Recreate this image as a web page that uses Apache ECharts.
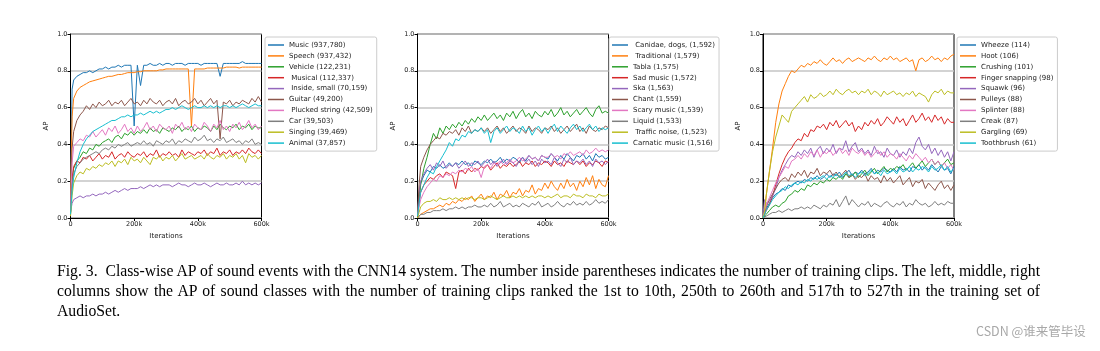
<!DOCTYPE html>
<html>
<head>
<meta charset="utf-8">
<script src="https://cdn.jsdelivr.net/npm/echarts@6/dist/echarts.min.js"></script>
<style>
  body { margin: 0; background: #fff; }
  #chart { position: absolute; left: 0; top: 0; width: 1100px; height: 351px; }
  #caption { position: absolute; left: 57px; top: 261px; width: 983px;
    font-family: "Liberation Serif"; font-size: 17px; line-height: 20px; color: #000; }
  #caption .line { white-space: nowrap; height: 20px; }
  #caption .line span { display: inline-block; transform-origin: 0 0; }
  #mark { position: absolute; left: 976px; top: 321px; font-family: "Noto Sans CJK SC";
    font-size: 12.5px; color: #a8a8a8; white-space: nowrap; }
</style>
</head>
<body>
<div id="chart"></div>
<div id="caption">
  <div class="line fill"><span>Fig. 3.&nbsp; Class-wise AP of sound events with the CNN14 system. The number inside parentheses indicates the number of training clips. The left, middle, right</span></div>
  <div class="line fill"><span>columns show the AP of sound classes with the number of training clips ranked the 1st to 10th, 250th to 260th and 517th to 527th in the training set of</span></div>
  <div class="line"><span>AudioSet.</span></div>
</div>
<div id="mark">CSDN @谁来管毕设</div>
<script>
// iterations (k)
const iterK = [0, 5, 10, 20, 30, 40, 50, 60, 70, 80, 90, 100,
  110, 120, 130, 140, 150, 160, 170, 180, 190, 200,
  210, 220, 230, 240, 250, 260, 270, 280, 290, 300,
  310, 320, 330, 340, 350, 360, 370, 380, 390, 400,
  410, 420, 430, 440, 450, 460, 470, 480, 490, 500,
  510, 520, 530, 540, 550, 560, 570, 580, 590, 600];

const yTicks = [0, 0.2, 0.4, 0.6, 0.8, 1.0];
const xTicks = [0, 200, 400, 600];

// left: ranked 1st-10th
const leftNames = ['Music (937,780)', 'Speech (937,432)', 'Vehicle (122,231)', ' Musical (112,337)',
  ' Inside, small (70,159)', 'Guitar (49,200)', ' Plucked string (42,509)', 'Car (39,503)',
  'Singing (39,469)', 'Animal (37,857)'];
const musicAP = [0.05, 0.70,
  0.75, 0.77, 0.78, 0.79, 0.79, 0.80, 0.79, 0.80, 0.81, 0.81,
  0.82, 0.81, 0.82, 0.82, 0.83, 0.82, 0.83, 0.83, 0.83, 0.50,
  0.83, 0.72, 0.83, 0.83, 0.84, 0.83, 0.83, 0.84, 0.83, 0.84,
  0.84, 0.83, 0.84, 0.84, 0.84, 0.83, 0.84, 0.84, 0.84, 0.84,
  0.83, 0.84, 0.84, 0.84, 0.84, 0.84, 0.77, 0.84, 0.84, 0.84,
  0.84, 0.84, 0.84, 0.85, 0.84, 0.84, 0.84, 0.84, 0.84, 0.84];
const speechAP = [0.10, 0.55,
  0.65, 0.69, 0.71, 0.72, 0.73, 0.74, 0.745, 0.75, 0.755, 0.76,
  0.765, 0.77, 0.77, 0.775, 0.78, 0.78, 0.785, 0.79, 0.79, 0.79,
  0.795, 0.795, 0.80, 0.80, 0.80, 0.80, 0.80, 0.805, 0.805, 0.81,
  0.81, 0.81, 0.81, 0.81, 0.81, 0.81, 0.81, 0.50, 0.81, 0.81,
  0.81, 0.81, 0.815, 0.815, 0.815, 0.815, 0.815, 0.815, 0.82, 0.82,
  0.82, 0.82, 0.815, 0.82, 0.82, 0.82, 0.82, 0.82, 0.82, 0.82];
const vehicleAP = [0.02, 0.20,
  0.27, 0.31, 0.33, 0.36, 0.35, 0.38, 0.37, 0.40, 0.39, 0.41,
  0.42, 0.43, 0.41, 0.44, 0.45, 0.43, 0.46, 0.45, 0.47, 0.45,
  0.47, 0.46, 0.48, 0.46, 0.49, 0.47, 0.48, 0.46, 0.49, 0.48,
  0.47, 0.49, 0.48, 0.50, 0.47, 0.49, 0.48, 0.50, 0.47, 0.49,
  0.48, 0.50, 0.49, 0.47, 0.50, 0.48, 0.51, 0.49, 0.48, 0.50,
  0.49, 0.51, 0.48, 0.50, 0.49, 0.51, 0.48, 0.50, 0.49, 0.49];
const musicalAP = [0.03, 0.22,
  0.28, 0.31, 0.30, 0.33, 0.32, 0.34, 0.31, 0.33, 0.35, 0.32,
  0.34, 0.33, 0.36, 0.32, 0.34, 0.35, 0.33, 0.36, 0.34, 0.33,
  0.35, 0.34, 0.36, 0.33, 0.35, 0.34, 0.37, 0.33, 0.35, 0.34,
  0.36, 0.34, 0.35, 0.33, 0.37, 0.34, 0.36, 0.35, 0.34, 0.36,
  0.35, 0.37, 0.34, 0.36, 0.35, 0.38, 0.34, 0.36, 0.35, 0.37,
  0.34, 0.36, 0.35, 0.37, 0.35, 0.38, 0.36, 0.35, 0.37, 0.35];
const insideSmallAP = [0.03, 0.08,
  0.10, 0.11, 0.12, 0.11, 0.12, 0.12, 0.13, 0.12, 0.13, 0.13,
  0.14, 0.13, 0.14, 0.15, 0.14, 0.15, 0.16, 0.15, 0.16, 0.16,
  0.16, 0.17, 0.16, 0.17, 0.18, 0.17, 0.18, 0.17, 0.18, 0.18,
  0.18, 0.17, 0.18, 0.19, 0.18, 0.18, 0.17, 0.18, 0.19, 0.18,
  0.18, 0.19, 0.18, 0.17, 0.18, 0.19, 0.18, 0.18, 0.19, 0.18,
  0.18, 0.19, 0.18, 0.20, 0.18, 0.19, 0.18, 0.19, 0.18, 0.19];
const guitarAP = [0.05, 0.38,
  0.47, 0.53, 0.56, 0.58, 0.61, 0.59, 0.62, 0.60, 0.63, 0.61,
  0.62, 0.64, 0.61, 0.63, 0.62, 0.64, 0.61, 0.63, 0.65, 0.62,
  0.63, 0.61, 0.64, 0.62, 0.65, 0.63, 0.62, 0.64, 0.61, 0.63,
  0.64, 0.62, 0.65, 0.61, 0.63, 0.64, 0.62, 0.63, 0.65, 0.62,
  0.64, 0.61, 0.63, 0.65, 0.62, 0.64, 0.43, 0.63, 0.62, 0.64,
  0.61, 0.63, 0.62, 0.64, 0.63, 0.62, 0.65, 0.63, 0.66, 0.63];
const pluckedAP = [0.04, 0.30,
  0.39, 0.41, 0.43, 0.42, 0.45, 0.44, 0.47, 0.44, 0.46, 0.48,
  0.45, 0.49, 0.47, 0.50, 0.46, 0.48, 0.51, 0.47, 0.49, 0.46,
  0.50, 0.47, 0.49, 0.52, 0.48, 0.50, 0.47, 0.51, 0.49, 0.48,
  0.50, 0.46, 0.51, 0.49, 0.52, 0.48, 0.50, 0.47, 0.51, 0.49,
  0.48, 0.52, 0.50, 0.47, 0.51, 0.49, 0.53, 0.48, 0.50, 0.47,
  0.51, 0.49, 0.52, 0.48, 0.50, 0.53, 0.49, 0.51, 0.48, 0.50];
const carAP = [0.02, 0.18,
  0.24, 0.28, 0.30, 0.32, 0.33, 0.34, 0.35, 0.36, 0.35, 0.37,
  0.38, 0.37, 0.39, 0.38, 0.40, 0.39, 0.40, 0.41, 0.39, 0.40,
  0.41, 0.40, 0.42, 0.40, 0.41, 0.39, 0.42, 0.41, 0.40, 0.42,
  0.41, 0.43, 0.40, 0.42, 0.41, 0.43, 0.42, 0.41, 0.44, 0.42,
  0.43, 0.45, 0.42, 0.43, 0.41, 0.43, 0.42, 0.44, 0.41, 0.42,
  0.43, 0.41, 0.42, 0.40, 0.42, 0.41, 0.43, 0.40, 0.41, 0.40];
const singingAP = [0.01, 0.12,
  0.19, 0.23, 0.25, 0.24, 0.27, 0.26, 0.28, 0.27, 0.29, 0.28,
  0.30, 0.29, 0.31, 0.28, 0.31, 0.30, 0.32, 0.29, 0.33, 0.31,
  0.32, 0.30, 0.33, 0.31, 0.29, 0.33, 0.32, 0.34, 0.31, 0.33,
  0.32, 0.34, 0.31, 0.33, 0.35, 0.32, 0.33, 0.34, 0.32, 0.33,
  0.34, 0.32, 0.35, 0.33, 0.32, 0.34, 0.33, 0.35, 0.32, 0.34,
  0.33, 0.35, 0.32, 0.34, 0.30, 0.35, 0.33, 0.34, 0.32, 0.34];
const animalAP = [0.02, 0.15,
  0.22, 0.30, 0.36, 0.40, 0.43, 0.45, 0.47, 0.48, 0.49, 0.50,
  0.51, 0.52, 0.53, 0.53, 0.54, 0.55, 0.55, 0.56, 0.55, 0.56,
  0.56, 0.57, 0.56, 0.57, 0.58, 0.57, 0.58, 0.57, 0.58, 0.59,
  0.59, 0.60, 0.59, 0.60, 0.61, 0.60, 0.59, 0.60, 0.61, 0.60,
  0.60, 0.61, 0.60, 0.61, 0.60, 0.61, 0.60, 0.61, 0.61, 0.60,
  0.61, 0.60, 0.61, 0.62, 0.61, 0.60, 0.61, 0.62, 0.61, 0.61];

// middle: ranked 250th-260th
const midNames = [' Canidae, dogs, (1,592)', ' Traditional (1,579)', 'Tabla (1,575)', 'Sad music (1,572)',
  'Ska (1,563)', 'Chant (1,559)', 'Scary music (1,539)', 'Liquid (1,533)',
  ' Traffic noise, (1,523)', 'Carnatic music (1,516)'];
const canidaeAP = [0.01, 0.12,
  0.19, 0.23, 0.26, 0.25, 0.28, 0.27, 0.29, 0.27, 0.28, 0.30,
  0.28, 0.30, 0.29, 0.31, 0.29, 0.30, 0.28, 0.31, 0.30, 0.29,
  0.31, 0.30, 0.32, 0.30, 0.31, 0.33, 0.30, 0.32, 0.31, 0.33,
  0.32, 0.30, 0.33, 0.31, 0.34, 0.32, 0.33, 0.31, 0.34, 0.33,
  0.32, 0.35, 0.33, 0.31, 0.34, 0.32, 0.35, 0.33, 0.31, 0.34,
  0.33, 0.35, 0.32, 0.34, 0.31, 0.35, 0.33, 0.34, 0.32, 0.33];
const traditionalAP = [0.00, 0.01,
  0.02, 0.03, 0.04, 0.05, 0.05, 0.06, 0.07, 0.06, 0.08, 0.07,
  0.09, 0.08, 0.10, 0.09, 0.11, 0.10, 0.12, 0.09, 0.11, 0.13,
  0.10, 0.12, 0.11, 0.14, 0.10, 0.13, 0.12, 0.15, 0.11, 0.14,
  0.13, 0.16, 0.12, 0.15, 0.14, 0.18, 0.13, 0.16, 0.15, 0.19,
  0.16, 0.20, 0.17, 0.15, 0.19, 0.16, 0.21, 0.17, 0.19, 0.15,
  0.20, 0.17, 0.22, 0.18, 0.23, 0.16, 0.21, 0.18, 0.17, 0.23];
const tablaAP = [0.01, 0.10,
  0.18, 0.27, 0.33, 0.40, 0.46, 0.43, 0.49, 0.46, 0.50, 0.48,
  0.51, 0.49, 0.52, 0.50, 0.53, 0.51, 0.54, 0.52, 0.55, 0.53,
  0.56, 0.53, 0.55, 0.57, 0.54, 0.56, 0.53, 0.57, 0.55, 0.58,
  0.54, 0.57, 0.59, 0.55, 0.57, 0.54, 0.58, 0.56, 0.55, 0.58,
  0.56, 0.59, 0.55, 0.57, 0.60, 0.56, 0.58, 0.55, 0.57, 0.59,
  0.56, 0.58, 0.60, 0.57, 0.55, 0.59, 0.61, 0.57, 0.58, 0.57];
const sadMusicAP = [0.01, 0.08,
  0.14, 0.18, 0.20, 0.22, 0.21, 0.23, 0.24, 0.22, 0.25, 0.24,
  0.23, 0.16, 0.25, 0.26, 0.24, 0.27, 0.25, 0.27, 0.26, 0.28,
  0.27, 0.29, 0.26, 0.28, 0.30, 0.27, 0.29, 0.28, 0.30, 0.28,
  0.29, 0.31, 0.28, 0.30, 0.29, 0.31, 0.28, 0.30, 0.29, 0.31,
  0.30, 0.28, 0.31, 0.29, 0.30, 0.28, 0.31, 0.30, 0.29, 0.31,
  0.29, 0.31, 0.28, 0.30, 0.29, 0.31, 0.30, 0.28, 0.31, 0.30];
const skaAP = [0.02, 0.14,
  0.20, 0.24, 0.27, 0.29, 0.26, 0.30, 0.28, 0.31, 0.27, 0.29,
  0.28, 0.30, 0.27, 0.29, 0.31, 0.28, 0.30, 0.29, 0.31, 0.28,
  0.30, 0.32, 0.29, 0.31, 0.28, 0.30, 0.32, 0.29, 0.31, 0.30,
  0.28, 0.31, 0.33, 0.30, 0.32, 0.29, 0.31, 0.28, 0.32, 0.30,
  0.31, 0.29, 0.33, 0.30, 0.28, 0.32, 0.30, 0.33, 0.29, 0.31,
  0.30, 0.32, 0.29, 0.31, 0.28, 0.32, 0.30, 0.31, 0.29, 0.31];
const chantAP = [0.02, 0.18,
  0.28, 0.33, 0.37, 0.40, 0.42, 0.44, 0.43, 0.46, 0.45, 0.47,
  0.46, 0.48, 0.45, 0.49, 0.47, 0.50, 0.46, 0.48, 0.47, 0.49,
  0.47, 0.49, 0.46, 0.48, 0.50, 0.47, 0.49, 0.46, 0.48, 0.50,
  0.47, 0.49, 0.48, 0.46, 0.50, 0.47, 0.49, 0.48, 0.46, 0.49,
  0.48, 0.50, 0.47, 0.49, 0.46, 0.48, 0.50, 0.47, 0.49, 0.51,
  0.47, 0.49, 0.46, 0.50, 0.48, 0.47, 0.49, 0.48, 0.50, 0.49];
const scaryMusicAP = [0.01, 0.06,
  0.10, 0.14, 0.17, 0.19, 0.21, 0.20, 0.23, 0.22, 0.24, 0.23,
  0.25, 0.24, 0.26, 0.25, 0.27, 0.26, 0.28, 0.25, 0.27, 0.22,
  0.28, 0.29, 0.27, 0.30, 0.29, 0.31, 0.29, 0.30, 0.32, 0.30,
  0.31, 0.33, 0.31, 0.32, 0.34, 0.32, 0.33, 0.31, 0.34, 0.33,
  0.33, 0.35, 0.33, 0.34, 0.32, 0.35, 0.34, 0.36, 0.34, 0.35,
  0.36, 0.34, 0.37, 0.35, 0.36, 0.38, 0.36, 0.37, 0.36, 0.37];
const liquidAP = [0.00, 0.01,
  0.02, 0.02, 0.03, 0.03, 0.04, 0.04, 0.04, 0.05, 0.04, 0.05,
  0.05, 0.06, 0.05, 0.06, 0.05, 0.06, 0.06, 0.07, 0.06, 0.06,
  0.07, 0.06, 0.08, 0.06, 0.07, 0.09, 0.06, 0.07, 0.08, 0.06,
  0.07, 0.06, 0.08, 0.07, 0.06, 0.08, 0.07, 0.09, 0.06, 0.07,
  0.08, 0.06, 0.07, 0.09, 0.07, 0.06, 0.08, 0.07, 0.09, 0.07,
  0.08, 0.07, 0.09, 0.07, 0.08, 0.10, 0.08, 0.09, 0.08, 0.10];
const trafficAP = [0.00, 0.03,
  0.06, 0.08, 0.09, 0.09, 0.10, 0.09, 0.11, 0.10, 0.10, 0.11,
  0.10, 0.11, 0.10, 0.11, 0.10, 0.11, 0.11, 0.10, 0.11, 0.11,
  0.10, 0.11, 0.12, 0.11, 0.10, 0.11, 0.12, 0.11, 0.11, 0.12,
  0.11, 0.12, 0.11, 0.12, 0.11, 0.12, 0.11, 0.12, 0.12, 0.11,
  0.12, 0.11, 0.12, 0.13, 0.11, 0.12, 0.12, 0.11, 0.13, 0.12,
  0.12, 0.11, 0.13, 0.12, 0.12, 0.11, 0.13, 0.12, 0.12, 0.13];
const carnaticAP = [0.01, 0.08,
  0.14, 0.18, 0.22, 0.25, 0.24, 0.28, 0.31, 0.34, 0.37, 0.41,
  0.39, 0.43, 0.42, 0.45, 0.44, 0.47, 0.46, 0.48, 0.47, 0.49,
  0.46, 0.48, 0.41, 0.47, 0.49, 0.46, 0.48, 0.50, 0.47, 0.49,
  0.48, 0.46, 0.50, 0.47, 0.49, 0.45, 0.48, 0.50, 0.47, 0.49,
  0.46, 0.49, 0.51, 0.47, 0.50, 0.48, 0.46, 0.49, 0.51, 0.48,
  0.50, 0.47, 0.49, 0.51, 0.48, 0.50, 0.47, 0.49, 0.48, 0.49];

// right: ranked 517th-527th
const rightNames = ['Wheeze (114)', 'Hoot (106)', 'Crushing (101)', 'Finger snapping (98)',
  'Squawk (96)', 'Pulleys (88)', 'Splinter (88)', 'Creak (87)', 'Gargling (69)', 'Toothbrush (61)'];
const wheezeAP = [0.00, 0.02,
  0.05, 0.08, 0.11, 0.13, 0.14, 0.16, 0.15, 0.18, 0.17, 0.19,
  0.20, 0.19, 0.21, 0.20, 0.22, 0.21, 0.23, 0.21, 0.22, 0.24,
  0.22, 0.24, 0.23, 0.25, 0.22, 0.24, 0.26, 0.23, 0.25, 0.24,
  0.26, 0.24, 0.25, 0.27, 0.24, 0.26, 0.25, 0.27, 0.26, 0.25,
  0.27, 0.25, 0.28, 0.26, 0.27, 0.25, 0.28, 0.27, 0.29, 0.26,
  0.28, 0.26, 0.29, 0.27, 0.25, 0.28, 0.26, 0.27, 0.24, 0.28];
const hootAP = [0.00, 0.03,
  0.12, 0.25, 0.38, 0.52, 0.62, 0.69, 0.73, 0.77, 0.80, 0.79,
  0.81, 0.83, 0.82, 0.84, 0.83, 0.85, 0.84, 0.86, 0.84, 0.83,
  0.85, 0.87, 0.85, 0.86, 0.84, 0.86, 0.87, 0.85, 0.86, 0.87,
  0.86, 0.85, 0.87, 0.86, 0.88, 0.86, 0.85, 0.87, 0.86, 0.88,
  0.86, 0.87, 0.85, 0.86, 0.87, 0.85, 0.86, 0.80, 0.86, 0.87,
  0.85, 0.86, 0.88, 0.86, 0.87, 0.85, 0.87, 0.86, 0.88, 0.89];
const crushingAP = [0.00, 0.01,
  0.02, 0.04, 0.06, 0.07, 0.06, 0.08, 0.09, 0.12, 0.13, 0.15,
  0.14, 0.16, 0.15, 0.18, 0.17, 0.19, 0.18, 0.20, 0.19, 0.21,
  0.20, 0.22, 0.21, 0.23, 0.21, 0.24, 0.22, 0.23, 0.25, 0.22,
  0.24, 0.26, 0.23, 0.25, 0.27, 0.24, 0.26, 0.28, 0.25, 0.27,
  0.26, 0.28, 0.27, 0.29, 0.26, 0.28, 0.30, 0.27, 0.29, 0.31,
  0.28, 0.30, 0.32, 0.29, 0.31, 0.28, 0.30, 0.32, 0.29, 0.30];
const fingerSnapAP = [0.00, 0.02,
  0.04, 0.07, 0.12, 0.18, 0.24, 0.29, 0.33, 0.36, 0.38, 0.41,
  0.43, 0.42, 0.46, 0.44, 0.48, 0.47, 0.50, 0.49, 0.51, 0.48,
  0.52, 0.50, 0.53, 0.49, 0.51, 0.53, 0.50, 0.52, 0.47, 0.50,
  0.48, 0.52, 0.50, 0.53, 0.51, 0.54, 0.50, 0.52, 0.55, 0.53,
  0.51, 0.55, 0.52, 0.54, 0.50, 0.53, 0.56, 0.52, 0.54, 0.57,
  0.53, 0.55, 0.52, 0.56, 0.53, 0.55, 0.51, 0.54, 0.52, 0.52];
const squawkAP = [0.02, 0.10,
  0.08, 0.09, 0.12, 0.16, 0.22, 0.26, 0.29, 0.32, 0.34, 0.33,
  0.36, 0.34, 0.37, 0.35, 0.38, 0.33, 0.37, 0.39, 0.35, 0.38,
  0.36, 0.40, 0.35, 0.38, 0.37, 0.42, 0.36, 0.39, 0.41, 0.36,
  0.38, 0.35, 0.37, 0.34, 0.39, 0.35, 0.36, 0.33, 0.38, 0.35,
  0.34, 0.37, 0.33, 0.36, 0.34, 0.38, 0.35, 0.41, 0.44, 0.39,
  0.37, 0.40, 0.35, 0.38, 0.34, 0.37, 0.33, 0.36, 0.31, 0.36];
const pulleysAP = [0.01, 0.03,
  0.06, 0.10, 0.13, 0.16, 0.19, 0.21, 0.22, 0.20, 0.24, 0.22,
  0.25, 0.23, 0.26, 0.22, 0.25, 0.24, 0.27, 0.23, 0.25, 0.24,
  0.26, 0.23, 0.25, 0.22, 0.24, 0.26, 0.22, 0.24, 0.21, 0.23,
  0.22, 0.24, 0.20, 0.23, 0.21, 0.22, 0.19, 0.23, 0.20, 0.22,
  0.19, 0.21, 0.23, 0.18, 0.20, 0.22, 0.17, 0.20, 0.19, 0.21,
  0.16, 0.19, 0.17, 0.15, 0.18, 0.20, 0.16, 0.18, 0.15, 0.18];
const splinterAP = [0.01, 0.04,
  0.07, 0.11, 0.15, 0.19, 0.22, 0.25, 0.28, 0.27, 0.31, 0.32,
  0.34, 0.32, 0.35, 0.33, 0.36, 0.34, 0.37, 0.33, 0.36, 0.35,
  0.37, 0.34, 0.36, 0.38, 0.35, 0.37, 0.34, 0.38, 0.36, 0.35,
  0.37, 0.34, 0.36, 0.33, 0.35, 0.37, 0.34, 0.36, 0.33, 0.35,
  0.34, 0.32, 0.35, 0.33, 0.31, 0.34, 0.32, 0.35, 0.33, 0.31,
  0.33, 0.30, 0.32, 0.29, 0.31, 0.28, 0.30, 0.27, 0.29, 0.26];
const creakAP = [0.00, 0.01,
  0.01, 0.02, 0.03, 0.03, 0.04, 0.03, 0.04, 0.05, 0.04, 0.05,
  0.05, 0.06, 0.05, 0.06, 0.05, 0.07, 0.06, 0.05, 0.07, 0.06,
  0.08, 0.07, 0.10, 0.06, 0.09, 0.12, 0.07, 0.10, 0.08, 0.06,
  0.08, 0.07, 0.09, 0.06, 0.08, 0.07, 0.06, 0.08, 0.09, 0.07,
  0.06, 0.08, 0.07, 0.09, 0.06, 0.08, 0.07, 0.10, 0.08, 0.07,
  0.08, 0.06, 0.07, 0.09, 0.07, 0.08, 0.07, 0.09, 0.08, 0.08];
const garglingAP = [0.00, 0.04,
  0.12, 0.25, 0.36, 0.44, 0.50, 0.56, 0.54, 0.52, 0.58, 0.60,
  0.62, 0.64, 0.66, 0.63, 0.67, 0.65, 0.66, 0.68, 0.66, 0.67,
  0.69, 0.67, 0.70, 0.68, 0.67, 0.69, 0.70, 0.68, 0.69, 0.67,
  0.69, 0.68, 0.70, 0.67, 0.69, 0.68, 0.66, 0.69, 0.67, 0.68,
  0.69, 0.67, 0.68, 0.66, 0.68, 0.67, 0.69, 0.66, 0.68, 0.67,
  0.66, 0.63, 0.67, 0.69, 0.68, 0.70, 0.67, 0.69, 0.68, 0.68];
const toothbrushAP = [0.00, 0.02,
  0.04, 0.07, 0.10, 0.12, 0.14, 0.15, 0.17, 0.16, 0.18, 0.19,
  0.18, 0.20, 0.19, 0.21, 0.20, 0.22, 0.21, 0.22, 0.23, 0.21,
  0.23, 0.22, 0.24, 0.22, 0.23, 0.25, 0.23, 0.24, 0.22, 0.24,
  0.25, 0.23, 0.24, 0.26, 0.24, 0.25, 0.23, 0.26, 0.24, 0.25,
  0.26, 0.24, 0.27, 0.25, 0.26, 0.28, 0.25, 0.27, 0.26, 0.28,
  0.27, 0.25, 0.28, 0.26, 0.27, 0.29, 0.26, 0.28, 0.25, 0.27];

const colors = ['#1f77b4', '#ff7f0e', '#2ca02c', '#d62728', '#9467bd',
  '#8c564b', '#e377c2', '#7f7f7f', '#bcbd22', '#17becf'];

const panels = [
  { names: leftNames, values: [musicAP, speechAP, vehicleAP, musicalAP, insideSmallAP,
      guitarAP, pluckedAP, carAP, singingAP, animalAP], left: 70.5, legendLeft: 265 },
  { names: midNames, values: [canidaeAP, traditionalAP, tablaAP, sadMusicAP, skaAP,
      chantAP, scaryMusicAP, liquidAP, trafficAP, carnaticAP], left: 417.5, legendLeft: 609 },
  { names: rightNames, values: [wheezeAP, hootAP, crushingAP, fingerSnapAP, squawkAP,
      pulleysAP, splinterAP, creakAP, garglingAP, toothbrushAP], left: 763, legendLeft: 957 }
];

const font = 'DejaVu Sans';
const grid = [], xAxis = [], yAxis = [], legend = [], series = [];

panels.forEach((p, i) => {
  grid.push({ left: p.left, top: 34, width: 191, height: 184,
    show: true, borderColor: '#000', borderWidth: 1, backgroundColor: '#fff' });
  xAxis.push({
    type: 'value', gridIndex: i, min: xTicks[0], max: xTicks[xTicks.length - 1],
    interval: xTicks[1] - xTicks[0],
    name: 'Iterations', nameLocation: 'middle', nameGap: 15,
    nameTextStyle: { fontFamily: font, fontSize: 7, color: '#222' },
    axisLine: { show: true, lineStyle: { color: '#000', width: 1 } },
    axisTick: { show: true, length: 3, lineStyle: { color: '#000' } },
    axisLabel: { fontFamily: font, fontSize: 6.5, color: '#222', margin: 3,
      formatter: v => v === 0 ? '0' : v + 'k' },
    splitLine: { show: false }
  });
  yAxis.push({
    type: 'value', gridIndex: i, min: yTicks[0], max: yTicks[yTicks.length - 1],
    interval: yTicks[1] - yTicks[0],
    name: 'AP', nameLocation: 'middle', nameGap: 21, nameRotate: 90,
    nameTextStyle: { fontFamily: font, fontSize: 7, color: '#222' },
    axisLine: { show: true, lineStyle: { color: '#000', width: 1 } },
    axisTick: { show: true, length: 3, lineStyle: { color: '#000' } },
    axisLabel: { fontFamily: font, fontSize: 6.5, color: '#222', margin: 3,
      formatter: v => v.toFixed(1) },
    splitLine: { show: true, lineStyle: { color: '#c4c4c4', width: 1.5 } }
  });
  legend.push({
    data: p.names, left: p.legendLeft, top: 37, orient: 'vertical',
    icon: 'rect', itemWidth: 16, itemHeight: 1.5, itemGap: 1.9, itemTextGap: 5,
    padding: [3.5, 4, 3.5, 3],
    backgroundColor: '#fff', borderColor: '#cccccc', borderWidth: 1, borderRadius: 2,
    textStyle: { fontFamily: font, fontSize: 7, lineHeight: 9, color: '#222' }
  });
  p.names.forEach((name, k) => {
    series.push({
      name: name, type: 'line', xAxisIndex: i, yAxisIndex: i,
      data: iterK.map((x, j) => [x, p.values[k][j]]),
      showSymbol: false, symbol: 'none',
      lineStyle: { width: 1, color: colors[k] }, itemStyle: { color: colors[k] }
    });
  });
});

const chart = echarts.init(document.getElementById('chart'));
chart.setOption({
  animation: false,
  backgroundColor: 'transparent',
  grid: grid, xAxis: xAxis, yAxis: yAxis, legend: legend, series: series
});

// caption: condense the serif so the first line fills the width with normal
// spacing, then stretch the second line's word gaps to the same width
const capWidth = document.getElementById('caption').clientWidth;
const spans = document.querySelectorAll('#caption .line span');
const squeeze = capWidth / spans[0].getBoundingClientRect().width;
spans.forEach(span => {
  const w = span.getBoundingClientRect().width * squeeze;
  span.style.transform = 'scaleX(' + squeeze + ')';
  if (span.parentNode.classList.contains('fill') && w < capWidth) {
    const gaps = span.textContent.split(' ').length - 1;
    span.style.wordSpacing = ((capWidth - w) / squeeze / gaps) + 'px';
  }
});
</script>
</body>
</html>
